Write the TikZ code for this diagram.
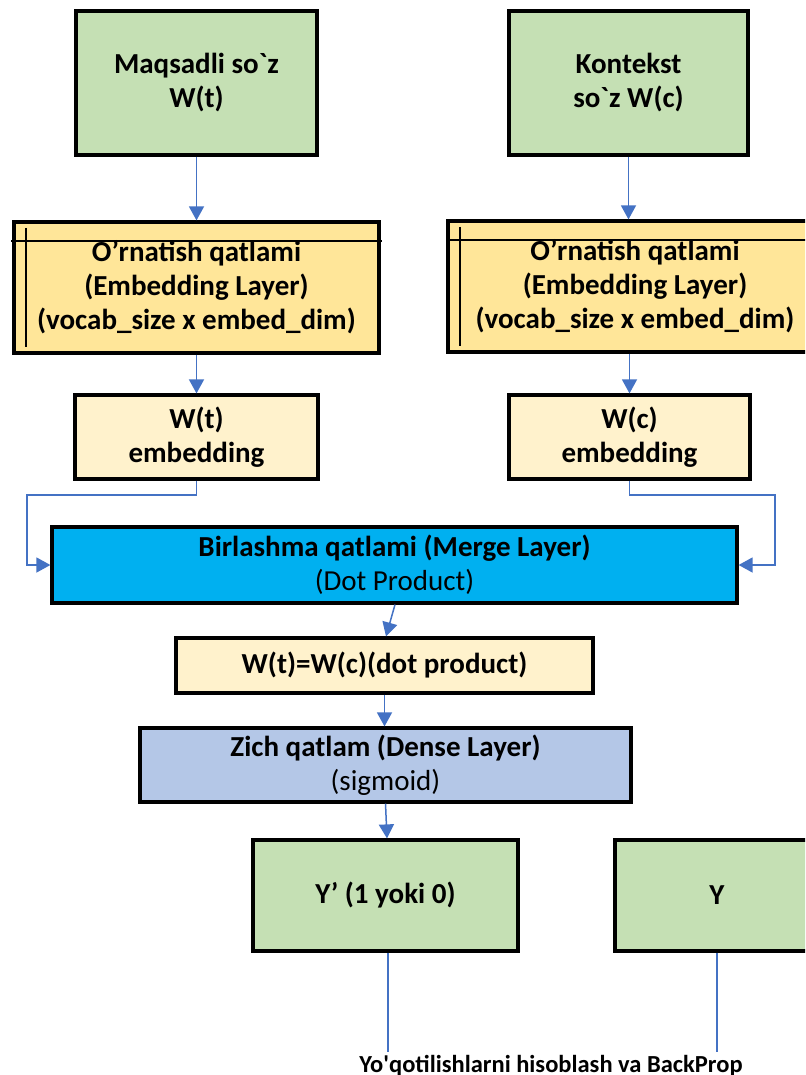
\documentclass[tikz,border=0pt]{standalone}
\usepackage{fontspec}
\newfontfamily\cf{Carlito}
\usetikzlibrary{arrows.meta}
\definecolor{gr}{HTML}{C5E0B4}
\definecolor{gold}{HTML}{FFE699}
\definecolor{lite}{HTML}{FFF2CC}
\definecolor{mblue}{HTML}{00B0F0}
\definecolor{dblue}{HTML}{B4C7E7}
\definecolor{ablue}{HTML}{4472C4}
\begin{document}
\begin{tikzpicture}[x=1pt,y=-1pt,
  box/.style={draw=black, line width=3.2pt, inner sep=0pt, align=center,
    font=\cf\bfseries\fontsize{29}{34}\selectfont},
  arr/.style={draw=ablue, line width=1.5pt, -{Triangle[length=14pt,width=15pt]}},
  ln/.style={draw=ablue, line width=1.5pt},
  extra/.style={draw=black, line width=2.4pt}]
\clip (0,0) rectangle (805,1075);
\fill[white] (0,0) rectangle (805,1075);

% top boxes
\node[box, fill=gr, minimum width=241pt, minimum height=144pt] (tw) at (196.5,83)
  {Maqsadli so\textasciigrave z\\W(t)};
\node[box, fill=gr, minimum width=239pt, minimum height=144pt] (cw) at (628.5,83)
  {Kontekst\\so\textasciigrave z W(c)};

% embedding layers
\node[box, fill=gold, minimum width=365pt, minimum height=131pt] (el1) at (196.5,287.5)
  {O’rnatish qatlami\\(Embedding Layer)\\(vocab\_size x embed\_dim)};
\node[box, fill=gold, minimum width=374pt, minimum height=131pt] (el2) at (635,286.5)
  {O’rnatish qatlami\\(Embedding Layer)\\(vocab\_size x embed\_dim)};
\draw[extra] (11,241) -- (382,241);
\draw[extra] (26,228) -- (26,347);
\draw[extra] (446,240) -- (810,240);
\draw[extra] (460,227) -- (460,346);

% embeddings
\node[box, fill=lite, minimum width=243pt, minimum height=84pt] (e1) at (196.5,437)
  {W(t)\\embedding};
\node[box, fill=lite, minimum width=241pt, minimum height=84pt] (e2) at (629.5,437)
  {W(c)\\embedding};

% merge
\node[box, fill=mblue, minimum width=685pt, minimum height=76pt] (mg) at (394.5,565)
  {Birlashma qatlami (Merge Layer)\\{\mdseries (Dot Product)}};

% dot
\node[box, fill=lite, minimum width=417pt, minimum height=55pt] (dp) at (384.5,665.5)
  {W(t)=W(c)(dot product)};

% dense
\node[box, fill=dblue, minimum width=491pt, minimum height=74pt] (ds) at (385.5,765)
  {Zich qatlam (Dense Layer)\\{\mdseries (sigmoid)}};

% outputs
\node[box, fill=gr, minimum width=265pt, minimum height=111pt] (yp) at (385.5,895.5)
  {Y’ (1 yoki 0)};
\node[box, fill=gr, minimum width=204pt, minimum height=111pt] (y) at (717,895.5)
  {Y};

% bottom label
\node[font=\cf\bfseries\fontsize{24.5}{28}\selectfont, anchor=base, inner sep=0pt] (loss) at (551,1072)
  {Yo\textquotesingle qotilishlarni hisoblash va BackProp};

% connectors
\draw[arr] (tw.south) -- (el1.north);
\draw[arr] (cw.south) -- (el2.north -| cw.south);
\draw[arr] (el1.south) -- (e1.north);
\draw[arr] (el2.south -| e2.north) -- (e2.north);
\draw[arr] (e1.south) -- (196.5,495) -- (27,495) -- (27,565) -- (mg.west);
\draw[arr] (e2.south) -- (629.5,495) -- (775,495) -- (775,565) -- (mg.east);
\draw[arr] ([xshift=0.5pt]mg.south) -- ([xshift=1.5pt]dp.north);
\draw[arr] (dp.south) -- (ds.north -| dp.south);
\draw[arr] (ds.south) -- ([xshift=1.5pt]yp.north);
\coordinate (l1) at (388,1052);
\coordinate (l2) at (717,1052);
\draw[ln] (yp.south -| l1) -- (l1);
\draw[ln] (y.south) -- (l2);
\end{tikzpicture}
\end{document}
